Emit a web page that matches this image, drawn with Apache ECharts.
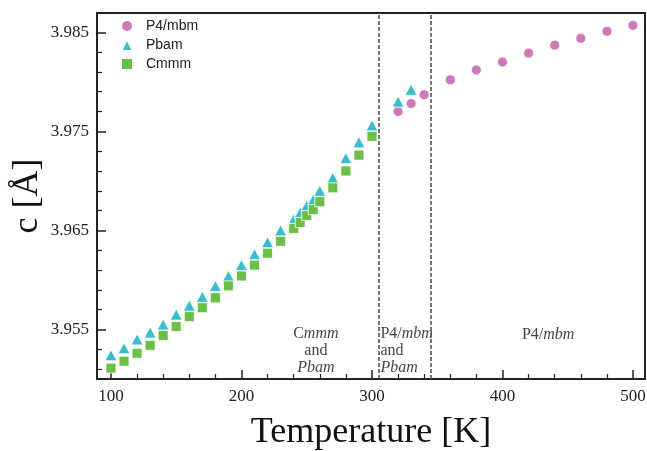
<!DOCTYPE html>
<html>
<head>
<meta charset="utf-8">
<script src="https://cdn.jsdelivr.net/npm/echarts@6/dist/echarts.min.js"></script>
<style>html,body{margin:0;padding:0;background:#fff;}#c{width:647px;height:451px;}</style>
</head>
<body>
<div id="c"></div>
<script>
// ---- data ----
var cmmmTemps = [100,110,120,130,140,150,160,170,180,190,200,210,220,230,240,245,250,255,260,270,280,290,300];
var cmmmC = [3.9511,3.9518,3.9526,3.9534,3.9544,3.9553,3.9563,3.9572,3.9582,3.9594,3.9604,3.9615,3.9627,3.9639,3.9652,3.9658,3.9665,3.9671,3.9679,3.9693,3.9710,3.9726,3.9745];
var pbamTemps = [100,110,120,130,140,150,160,170,180,190,200,210,220,230,240,245,250,255,260,270,280,290,300,320,330];
var pbamC = [3.9524,3.9531,3.9540,3.9547,3.9555,3.9565,3.9574,3.9583,3.9594,3.9604,3.9615,3.9626,3.9638,3.9650,3.9661,3.9668,3.9675,3.9681,3.9690,3.9703,3.9723,3.9739,3.9756,3.9780,3.9792];
var p4Temps = [320,330,340,360,380,400,420,440,460,480,500];
var p4C = [3.9770,3.9778,3.9787,3.9802,3.9812,3.9820,3.9829,3.9837,3.9844,3.9851,3.9857];
var phaseBoundaries = [305, 345];
var xMajorTicks = [100,200,300,400,500];
var xMinorTicks = [120,140,160,180,220,240,260,280,320,340,360,380,420,440,460,480];
var yMajorTicks = [3.955,3.965,3.975,3.985];
var yMinorTicks = [3.951,3.953,3.957,3.959,3.961,3.963,3.967,3.969,3.971,3.973,3.977,3.979,3.981,3.983,3.987];
var regionLabels = [
  {pos:[257, 3.9528], text:'C{i|mmm}\nand\n{i|Pbam}', align:'center'},
  {pos:[306.5, 3.9528], text:'P4/{i|mbm}\nand\n{i|Pbam}', align:'left'},
  {pos:[435, 3.9545], text:'P4/{i|mbm}', align:'center'}
];

function zip(a, b){ return a.map(function(v,i){ return [v, b[i]]; }); }

var SERIF = '"Liberation Serif", "DejaVu Serif", serif';
var XMIN = 89.3, XMAX = 509.2, YMIN = 3.950, YMAX = 3.98695;
var axisCol = '#222';

var chart = echarts.init(document.getElementById('c'));
chart.setOption({
  animation: false,
  backgroundColor: '#fff',
  grid: {left: 97, right: 2, top: 13, bottom: 72, containLabel: false, outerBoundsMode: 'none',
         show: true, borderColor: axisCol, borderWidth: 2, backgroundColor: 'transparent'},
  legend: {
    data: ['P4/mbm','Pbam','Cmmm'],
    orient: 'vertical', left: 115, top: 14,
    itemWidth: 12, itemHeight: 12, itemGap: 5,
    textStyle: {fontFamily: '"Liberation Sans", Arial, sans-serif', fontSize: 14, color: '#222', padding: [0,0,0,8]}
  },
  xAxis: [{
    type: 'value', min: XMIN, max: XMAX,
    name: 'Temperature [K]', nameLocation: 'middle', nameGap: 36, nameMoveOverlap: false,
    nameTextStyle: {fontFamily: SERIF, fontSize: 36, color: '#111'},
    axisLine: {show: true, lineStyle: {color: axisCol, width: 2}},
    axisTick: {show: true, inside: true, length: 9, customValues: xMajorTicks, lineStyle: {color: axisCol, width: 1.5}},
    axisLabel: {customValues: xMajorTicks, fontFamily: SERIF, fontSize: 17, color: '#222', margin: 9},
    splitLine: {show: false}
  },{
    type: 'value', min: XMIN, max: XMAX, position: 'bottom',
    axisLine: {show: false},
    axisTick: {show: true, inside: true, length: 5, customValues: xMinorTicks, lineStyle: {color: axisCol, width: 1.2}},
    axisLabel: {show: false}, splitLine: {show: false}
  }],
  yAxis: [{
    type: 'value', min: YMIN, max: YMAX,
    name: 'c [Å]', nameLocation: 'middle', nameGap: 51, nameRotate: 90, nameMoveOverlap: false,
    nameTextStyle: {fontFamily: SERIF, fontSize: 36, color: '#111'},
    axisLine: {show: true, lineStyle: {color: axisCol, width: 2}},
    axisTick: {show: true, inside: true, length: 9, customValues: yMajorTicks, lineStyle: {color: axisCol, width: 1.5}},
    axisLabel: {customValues: yMajorTicks, fontFamily: SERIF, fontSize: 17, color: '#222', margin: 8,
      formatter: function(v){ return v.toFixed(3); }},
    splitLine: {show: false}
  },{
    type: 'value', min: YMIN, max: YMAX, position: 'left',
    axisLine: {show: false},
    axisTick: {show: true, inside: true, length: 5, customValues: yMinorTicks, lineStyle: {color: axisCol, width: 1.2}},
    axisLabel: {show: false}, splitLine: {show: false}
  }],
  series: [
    {
      name: 'annotations', type: 'scatter', symbolSize: 0, silent: true, z: 1,
      data: regionLabels.map(function(r){
        return {value: r.pos, label: {show: true, position: 'inside', formatter: r.text, align: r.align}};
      }),
      label: {
        fontFamily: SERIF, fontSize: 16, color: '#111', lineHeight: 17,
        rich: {i: {fontFamily: SERIF, fontSize: 16, fontStyle: 'italic', color: '#111', lineHeight: 17}}
      },
      markLine: {
        silent: true, symbol: ['none','none'], label: {show: false},
        lineStyle: {type: [4,2], color: '#555', width: 1.6},
        data: phaseBoundaries.map(function(v){ return {xAxis: v}; })
      }
    },
    {
      name: 'P4/mbm', type: 'scatter', symbol: 'circle', symbolSize: 10, z: 3,
      itemStyle: {color: '#cd78b7', borderColor: '#fff', borderWidth: 0.8, opacity: 1},
      data: zip(p4Temps, p4C)
    },
    {
      name: 'Pbam', type: 'scatter', symbol: 'triangle', symbolSize: [12, 11], z: 3,
      itemStyle: {color: '#38bdca', borderColor: '#fff', borderWidth: 0.8, opacity: 1},
      data: zip(pbamTemps, pbamC)
    },
    {
      name: 'Cmmm', type: 'scatter', symbol: 'rect', symbolSize: 10, z: 3,
      itemStyle: {color: '#6bbf47', borderColor: '#fff', borderWidth: 0.8, opacity: 1},
      data: zip(cmmmTemps, cmmmC)
    }
  ]
});
</script>
</body>
</html>
